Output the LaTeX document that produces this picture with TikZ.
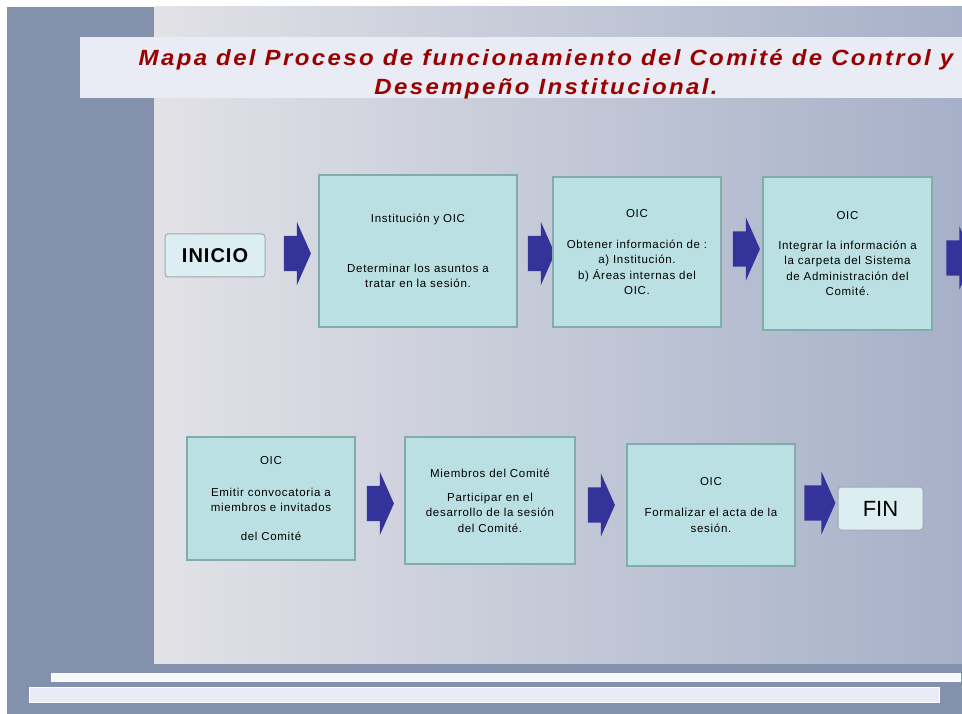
\documentclass[tikz,border=0pt]{standalone}
\usepackage{fontspec}
\setmainfont{Liberation Sans}
\usepackage{tikz}
\usetikzlibrary{shapes.arrows}
\definecolor{marco}{HTML}{8491AD}
\definecolor{panelizq}{HTML}{E2E2E7}
\definecolor{panelder}{HTML}{A6B0C8}
\definecolor{banda}{HTML}{EAECF5}
\definecolor{rojotit}{HTML}{990000}
\definecolor{cajafondo}{HTML}{BBE0E3}
\definecolor{cajaborde}{HTML}{82ABAD}
\definecolor{termfondo}{HTML}{DCEEF1}
\definecolor{termborde}{HTML}{9CAAB0}
\definecolor{flechaazul}{HTML}{333399}
\definecolor{barra}{HTML}{E9ECF7}
\tikzstyle{paso} = [rectangle, fill=cajafondo, draw=cajaborde, line width=1.2pt, align=center, inner sep=0pt, font=\fontsize{11.5}{15.5}\selectfont\addfontfeature{LetterSpace=6}]
\tikzstyle{terminal} = [rectangle, rounded corners=3pt, fill=termfondo, draw=termborde, line width=1pt, inner sep=0pt, minimum height=43pt]
\tikzstyle{flecha} = [single arrow, fill=flechaazul, inner xsep=0pt, inner ysep=17.5pt, single arrow head extend=14pt, single arrow tip angle=132, minimum height=27pt]

\begin{document}
\begin{tikzpicture}[x=1pt,y=-1pt]
				\useasboundingbox (0,0) rectangle (962,714);
				% marco y fondo
				\fill [white] (0,0) rectangle (962,714);
				\fill [marco] (7,7) rectangle (962,714);
				\shade [left color=panelizq, right color=panelder] (154,7) rectangle (962,663);
				\fill [banda] (80,37) rectangle (962,98);
				\draw [white, fill=white!70!barra, line width=0.6pt] (51,673) rectangle (960,681);
				\draw [white, fill=barra, line width=0.6pt] (29,687) rectangle (939,702);
				
				\node [align=center, text=rojotit, xscale=1.09, transform shape, font=\fontsize{22}{29}\selectfont\bfseries\itshape\addfontfeature{LetterSpace=10}] (titulo) at (546,74) {Mapa del Proceso de funcionamiento del Comité de Control y\\Desempeño Institucional.};
				
				% primera fila
				\node [terminal, minimum width=100pt, font=\fontsize{20}{20}\selectfont\bfseries\addfontfeature{LetterSpace=5}] (inicio) at (215,255.5) {INICIO};
				\node [flecha] (f1) at (293.5,253.5) {};
				\node [paso, minimum width=198pt, minimum height=152pt] (asuntos) at (418,251) {Institución y OIC\\[34.5pt]Determinar los asuntos a\\tratar en la sesión.};
				\node [flecha] (f2) at (537.5,253.5) {};
				\node [paso, minimum width=168pt, minimum height=150pt] (obtener) at (637,252) {OIC\\[15.5pt]Obtener información de :\\a) Institución.\\b) Áreas internas del\\OIC.};
				\node [flecha] (f3) at (742.5,249) {};
				\node [paso, minimum width=169pt, minimum height=153pt] (integrar) at (847.5,253.5) {OIC\\[14.5pt]Integrar la información a\\la carpeta del Sistema\\de Administración del\\Comité.};
				\node [flecha] (f4) at (956,258) {};
				
				% segunda fila
				\node [paso, minimum width=168pt, minimum height=123pt] (emitir) at (271,498.5) {OIC\\[16.5pt]Emitir convocatoria a\\miembros e invitados\\[13.5pt]del Comité};
				\node [flecha] (f5) at (376.5,503.5) {};
				\node [paso, minimum width=170pt, minimum height=127pt] (participar) at (490,500.5) {Miembros del Comité\\[8.5pt]Participar en el\\desarrollo de la sesión\\del Comité.};
				\node [flecha] (f6) at (597.5,505) {};
				\node [paso, minimum width=168pt, minimum height=122pt] (formalizar) at (711,505) {OIC\\[15.5pt]Formalizar el acta de la\\sesión.};
				\node [flecha, minimum height=31pt] (f7) at (816,503) {};
				\node [terminal, minimum width=85pt, font=\fontsize{22}{22}\selectfont] (fin) at (880.5,508.5) {FIN};
			\end{tikzpicture}
\end{document}
